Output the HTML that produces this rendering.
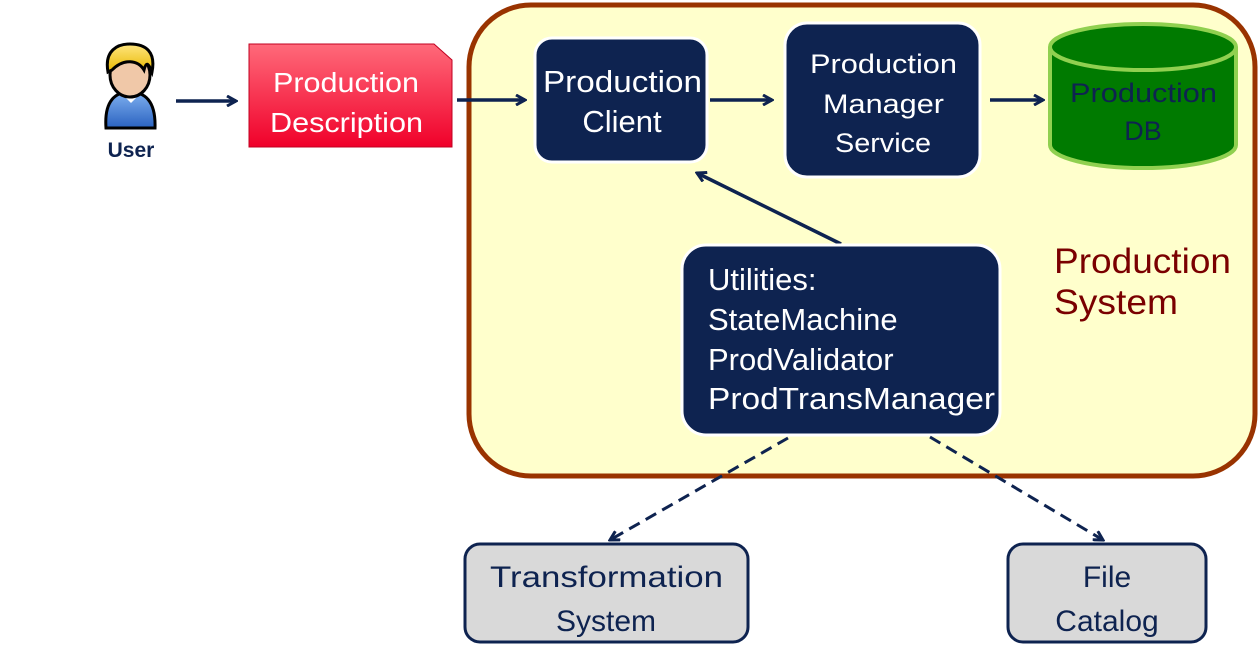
<!DOCTYPE html>
<html><head><meta charset="utf-8"><style>
html,body{margin:0;padding:0;background:#fff;width:1260px;height:645px;overflow:hidden}
svg{display:block}
text{font-family:"Liberation Sans",sans-serif}
</style></head><body>
<svg width="1260" height="645" viewBox="0 0 1260 645">
<defs>
<linearGradient id="red" x1="0" y1="0" x2="0" y2="1"><stop offset="0" stop-color="#ff6a7a"/><stop offset="1" stop-color="#f0002a"/></linearGradient>
<linearGradient id="hair" x1="0" y1="0" x2="0" y2="1"><stop offset="0" stop-color="#ffe680"/><stop offset="1" stop-color="#e8b800"/></linearGradient>
<linearGradient id="shirt" x1="0" y1="0" x2="0" y2="1"><stop offset="0" stop-color="#7fb0f0"/><stop offset="1" stop-color="#2a62c0"/></linearGradient>
<marker id="ah" markerWidth="12" markerHeight="12" refX="10" refY="6" orient="auto" markerUnits="userSpaceOnUse"><path d="M1,1 L10,6 L1,11" fill="none" stroke="#0e2350" stroke-width="3"/></marker>
</defs>
<rect x="469" y="5" width="786" height="471" rx="62" fill="#ffffcc" stroke="#993300" stroke-width="5"/>
<text x="1054" y="273" font-size="35" fill="#7a0000" textLength="177" lengthAdjust="spacingAndGlyphs">Production</text>
<text x="1054" y="314" font-size="35" fill="#7a0000" textLength="124" lengthAdjust="spacingAndGlyphs">System</text>
<!-- user -->
<path d="M106,128 C104,100 116,92 130,92 C144,92 156,100 155,128 Z" fill="url(#shirt)" stroke="#000" stroke-width="3"/>
<path d="M123,95 L131,103 L139,95 Z" fill="#fff"/>
<ellipse cx="130" cy="75" rx="20" ry="22" fill="#f0c8a8" stroke="#000" stroke-width="3"/>
<path d="M108,72 C104,50 118,44 130,44 C146,44 156,52 152,72 C148,62 146,62 144,70 C138,60 124,58 112,70 Z" fill="url(#hair)" stroke="#000" stroke-width="3"/>
<text x="131" y="157" font-size="21" font-weight="bold" fill="#0e2350" text-anchor="middle">User</text>
<line x1="176" y1="101" x2="236" y2="101" stroke="#0e2350" stroke-width="3.5" marker-end="url(#ah)"/>
<path d="M249,44 L434,44 L452,60 L452,147 L249,147 Z" fill="url(#red)" stroke="#c00020" stroke-width="1"/>
<text x="273" y="92" font-size="28" fill="#fff" textLength="146" lengthAdjust="spacingAndGlyphs">Production</text>
<text x="270" y="132" font-size="28" fill="#fff" textLength="153" lengthAdjust="spacingAndGlyphs">Description</text>
<line x1="457" y1="100" x2="525" y2="100" stroke="#0e2350" stroke-width="3.5" marker-end="url(#ah)"/>
<rect x="535" y="38" width="172" height="124" rx="17" fill="#0e2350" stroke="#fff" stroke-width="3"/>
<text x="543" y="92" font-size="31" fill="#fff" textLength="159" lengthAdjust="spacingAndGlyphs">Production</text>
<text x="622" y="132" font-size="31" fill="#fff" text-anchor="middle">Client</text>
<line x1="710" y1="100" x2="772" y2="100" stroke="#0e2350" stroke-width="3.5" marker-end="url(#ah)"/>
<rect x="785" y="23" width="195" height="154" rx="22" fill="#0e2350" stroke="#fff" stroke-width="3"/>
<text x="810" y="73" font-size="27" fill="#fff" textLength="147" lengthAdjust="spacingAndGlyphs">Production</text>
<text x="823" y="113" font-size="27" fill="#fff" textLength="121" lengthAdjust="spacingAndGlyphs">Manager</text>
<text x="835" y="152" font-size="27" fill="#fff" textLength="96" lengthAdjust="spacingAndGlyphs">Service</text>
<line x1="990" y1="100" x2="1043" y2="100" stroke="#0e2350" stroke-width="3.5" marker-end="url(#ah)"/>
<path d="M1050,47 L1050,145 A93,23 0 0 0 1236,145 L1236,47" fill="#007a00" stroke="#90d050" stroke-width="4"/>
<ellipse cx="1143" cy="47" rx="93" ry="23" fill="#007a00" stroke="#90d050" stroke-width="4"/>
<text x="1070" y="102" font-size="27" fill="#0e2350" textLength="147" lengthAdjust="spacingAndGlyphs">Production</text>
<text x="1143" y="140" font-size="27" fill="#0e2350" text-anchor="middle">DB</text>
<line x1="841" y1="244" x2="697" y2="173" stroke="#0e2350" stroke-width="3.5" marker-end="url(#ah)"/>
<rect x="682" y="245" width="318" height="190" rx="24" fill="#0e2350" stroke="#fff" stroke-width="3"/>
<text x="708" y="290" font-size="31" fill="#fff">Utilities:</text>
<text x="708" y="330" font-size="31" fill="#fff">StateMachine</text>
<text x="708" y="370" font-size="31" fill="#fff">ProdValidator</text>
<text x="708" y="409" font-size="31" fill="#fff" textLength="287" lengthAdjust="spacingAndGlyphs">ProdTransManager</text>
<line x1="788" y1="438" x2="610" y2="540" stroke="#0e2350" stroke-width="3" stroke-dasharray="12,7" marker-end="url(#ah)"/>
<line x1="930" y1="437" x2="1103" y2="540" stroke="#0e2350" stroke-width="3" stroke-dasharray="12,7" marker-end="url(#ah)"/>
<rect x="465" y="544" width="283" height="98" rx="15" fill="#d9d9d9" stroke="#0e2350" stroke-width="3"/>
<text x="490" y="587" font-size="30" fill="#0e2350" textLength="233" lengthAdjust="spacingAndGlyphs">Transformation</text>
<text x="606" y="631" font-size="30" fill="#0e2350" text-anchor="middle">System</text>
<rect x="1008" y="544" width="198" height="98" rx="15" fill="#d9d9d9" stroke="#0e2350" stroke-width="3"/>
<text x="1107" y="587" font-size="30" fill="#0e2350" text-anchor="middle">File</text>
<text x="1107" y="631" font-size="30" fill="#0e2350" text-anchor="middle">Catalog</text>
</svg>
</body></html>
